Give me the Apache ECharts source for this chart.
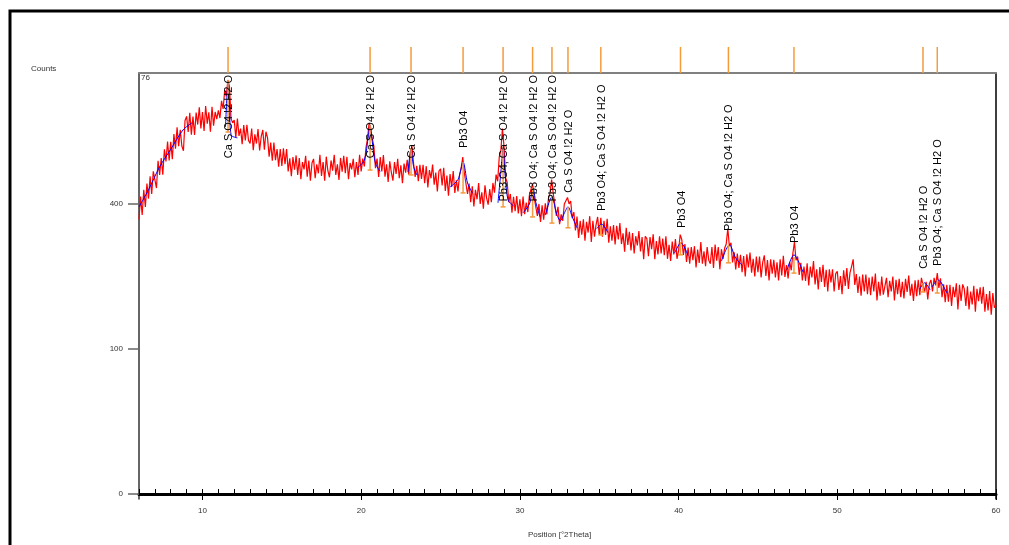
<!DOCTYPE html>
<html><head><meta charset="utf-8">
<script src="https://cdn.jsdelivr.net/npm/echarts@6/dist/echarts.min.js"></script>
<style>html,body{margin:0;padding:0;background:#fff}#c{width:1009px;height:545px}</style>
</head><body><div id="c"></div>
<script>
// ---- data ----
const twoThetaStart = 6, twoThetaStep = 0.1;
const observedCounts = [
359,421,370,440,392,458,415,480,428,495,
500,445,528,484,537,485,565,526,591,529,
590,533,616,567,639,575,631,576,560,663,
678,623,691,614,677,613,692,649,711,635,
694,627,716,652,693,624,713,645,694,668,
700,672,735,705,775,752,815,790,670,655,
665,604,670,610,635,582,647,594,648,594,
584,635,562,615,584,633,561,607,630,564,
624,603,541,587,528,587,530,566,509,566,
512,568,517,566,495,536,480,540,500,545,
484,537,471,524,501,544,479,529,467,521,
534,474,517,489,547,481,524,467,541,497,
477,529,497,547,484,517,469,537,494,544,
489,541,471,521,501,534,477,524,484,547,
495,535,510,570,600,655,662,600,575,505,
535,478,540,495,546,479,517,463,526,492,
467,524,487,534,474,514,459,519,491,531,
485,555,575,520,478,512,465,515,472,515,
459,511,447,499,474,516,455,491,435,496,
503,453,506,437,482,423,487,448,496,431,
468,435,485,505,540,490,490,428,458,405,
450,393,440,413,460,400,433,387,453,417,
398,442,405,460,432,485,465,540,560,635,
575,475,462,405,428,376,420,380,422,374,
413,367,421,372,404,378,425,423,458,418,
422,368,400,352,396,358,402,372,415,432,
470,430,428,368,392,346,372,355,400,395,
418,400,408,362,378,330,366,312,355,320,
359,305,352,325,367,302,355,315,345,365,
319,363,315,355,319,360,300,341,305,344,
296,342,308,349,297,323,279,337,295,327,
282,324,275,316,294,329,280,314,262,316,
310,269,314,285,321,262,304,273,316,275,
310,271,316,263,295,258,303,273,309,263,
282,320,308,272,297,256,289,252,290,260,
292,244,284,254,302,252,280,247,290,260,
252,290,243,296,259,290,240,285,263,287,
297,335,292,300,255,278,240,275,243,272,
234,269,225,273,244,277,233,263,225,268,
234,268,223,255,271,226,260,217,262,231,
261,223,255,217,262,227,270,224,249,221,
256,238,275,302,260,268,228,254,217,246,
216,253,207,246,223,258,209,240,199,245,
214,250,204,239,195,240,213,240,195,231,
236,198,226,190,238,206,243,200,233,246,
262,208,230,192,225,187,229,195,229,190,
223,188,225,195,231,178,214,187,225,189,
189,222,184,216,195,225,178,218,190,220,
184,214,182,220,194,227,187,210,177,217,
186,218,188,222,224,194,214,180,210,218,
195,222,207,232,202,221,184,209,175,208,
176,208,168,204,184,211,162,208,177,209,
200,168,205,162,195,171,206,158,200,177,
203,172,204,158,190,160,196,153,192,165,
170
];
const peakPositions = [11.61, 20.56, 23.14, 26.42, 28.94, 30.80, 32.02, 33.03, 35.10, 40.12, 43.14, 47.27, 55.40, 56.30];
const peakTopCounts = [815, 648, 569, 524, 573, 445, 420, 392, 344, 302, 295, 267, 212, 218];
const peakBackgroundCounts = [623, 499, 484, 431, 392, 365, 349, 337, 319, 272, 254, 232, 194, 192];
const peakLabels = [
  "Ca S O4 !2 H2 O", "Ca S O4 !2 H2 O", "Ca S O4 !2 H2 O", "Pb3 O4",
  "Pb3 O4; Ca S O4 !2 H2 O", "Pb3 O4; Ca S O4 !2 H2 O", "Pb3 O4; Ca S O4 !2 H2 O",
  "Ca S O4 !2 H2 O", "Pb3 O4; Ca S O4 !2 H2 O", "Pb3 O4", "Pb3 O4; Ca S O4 !2 H2 O",
  "Pb3 O4", "Ca S O4 !2 H2 O", "Pb3 O4; Ca S O4 !2 H2 O"
];
const fitProfiles = [
  [[6.0,392],[6.6,440],[7.3,509],[8.0,565],[8.77,630],[9.34,655]],
  [[11.45,640],[11.55,760],[11.62,804],[11.7,720],[11.8,613],[12.2,603]],
  [[19.75,505],[20.2,530],[20.45,610],[20.56,648],[20.7,590],[20.9,520],[21.2,495]],
  [[22.95,493],[23.14,563],[23.3,510],[23.5,484]],
  [[25.6,448],[26.1,470],[26.42,524],[26.7,460],[27.0,431]],
  [[28.62,403],[28.85,520],[28.94,573],[29.05,500],[29.25,411],[29.6,395]],
  [[30.2,376],[30.6,400],[30.83,445],[31.0,405],[31.27,365]],
  [[31.6,370],[32.02,420],[32.3,375],[32.55,355],[32.8,375],[33.03,392],[33.3,365],[33.6,337]],
  [[34.85,335],[35.15,346],[35.55,325]],
  [[39.75,276],[40.15,300],[40.6,270]],
  [[42.7,258],[43.0,285],[43.2,295],[43.6,265],[44.0,249]],
  [[46.83,239],[47.27,272],[47.84,234]],
  [[55.2,200],[55.5,212],[55.85,198]],
  [[55.97,204],[56.35,218],[56.9,192]]
];
const xTickLabels = [10, 20, 30, 40, 50, 60];
const yTickLabels = [0, 100, 400];
const cornerLabel = "76";
const xAxisTitle = "Position [°2Theta]";
const yAxisTitle = "Counts";

// ---- chart ----
const chart = echarts.init(document.getElementById('c'), null, {renderer: 'canvas'});
const sq = c => Math.sqrt(c);
const labelFont = '11px "Liberation Sans"';
const mctx = document.createElement('canvas').getContext('2d');
mctx.font = labelFont;
const measure = t => mctx.measureText(t).width;

const obsData = observedCounts.map((c, i) => [+(twoThetaStart + i * twoThetaStep).toFixed(2), sq(c)]);
const peakData = peakPositions.map((p, i) => [p, peakTopCounts[i], peakBackgroundCounts[i], i]);
const ORANGE = '#f59b3c';
const smallFont = {fontSize: 8, color: '#333', fontFamily: 'Liberation Sans'};

const series = [{
  type: 'line', name: 'observed', data: obsData, showSymbol: false, sampling: 'none',
  lineStyle: {color: '#ff0000', width: 1.2}, z: 2, silent: true,
  markLine: {silent: true, symbol: 'none', label: {show: false},
    lineStyle: {color: '#000', width: 1, type: 'solid'}, data: [{yAxis: 0}]}
}];
fitProfiles.forEach(seg => series.push({
  type: 'line', data: seg.map(d => [d[0], sq(d[1])]), showSymbol: false, smooth: 0.3,
  lineStyle: {color: '#0000ff', width: 1}, z: 3, silent: true
}));
series.push({
  type: 'custom', data: peakData, clip: false, z: 4, silent: true,
  renderItem: function (params, api) {
    const i = api.value(3);
    const x = api.value(0);
    const pT = api.coord([x, sq(api.value(1))]);
    const pB = api.coord([x, sq(api.value(2))]);
    const gTop = params.coordSys.y;
    const txt = peakLabels[i];
    const L = measure(txt);
    let bottom = pT[1] - 14;
    if (bottom - L < gTop + 2) bottom = gTop + 2 + L;
    return {type: 'group', children: [
      {type: 'line', shape: {x1: pT[0], y1: gTop - 26, x2: pT[0], y2: gTop}, style: {stroke: ORANGE, lineWidth: 1.5}},
      {type: 'line', shape: {x1: pT[0], y1: pT[1], x2: pB[0], y2: pB[1]}, style: {stroke: ORANGE, lineWidth: 1.5}},
      {type: 'line', shape: {x1: pB[0] - 2.5, y1: pB[1], x2: pB[0] + 2.5, y2: pB[1]}, style: {stroke: ORANGE, lineWidth: 1.5}},
      {type: 'text', x: pT[0] + 1, y: bottom, rotation: Math.PI / 2,
        style: {text: txt, fill: '#000', font: labelFont, align: 'left', verticalAlign: 'middle',
          textAlign: 'left', textVerticalAlign: 'middle'}}
    ]};
  }
});

const yMin = -0.345, yMax = 29.03;
chart.setOption({
  animation: false,
  backgroundColor: '#fff',
  grid: {left: 139, right: 13, top: 73, bottom: 46},
  xAxis: [
    {type: 'value', min: 6, max: 60, position: 'bottom',
      axisLine: {show: true, lineStyle: {color: '#000', width: 3}},
      axisTick: {show: true, customValues: xTickLabels, length: 6, lineStyle: {color: '#000', width: 1}},
      axisLabel: Object.assign({customValues: xTickLabels, margin: 8}, smallFont),
      splitLine: {show: false}},
    {type: 'value', min: 6, max: 60, interval: 1, position: 'bottom',
      axisLine: {show: false},
      axisTick: {show: true, inside: true, length: 5, lineStyle: {color: '#000', width: 1}},
      axisLabel: {show: false}, splitLine: {show: false}},
    {type: 'value', min: 6, max: 60, position: 'top',
      axisLine: {show: true, lineStyle: {color: '#808080', width: 2}},
      axisTick: {show: false}, axisLabel: {show: false}, splitLine: {show: false}}
  ],
  yAxis: [
    {type: 'value', min: yMin, max: yMax, position: 'left',
      axisLine: {show: true, lineStyle: {color: '#333', width: 1.5}},
      axisTick: {show: true, customValues: yTickLabels.map(sq), length: 11, lineStyle: {color: '#666', width: 1.5}},
      axisLabel: Object.assign({customValues: yTickLabels.map(sq), margin: 16,
        formatter: v => String(Math.round(v * v))}, smallFont),
      splitLine: {show: false}},
    {type: 'value', min: yMin, max: yMax, position: 'right',
      axisLine: {show: true, lineStyle: {color: '#000', width: 1.5}},
      axisTick: {show: false}, axisLabel: {show: false}, splitLine: {show: false}}
  ],
  graphic: [
    {type: 'polyline', shape: {points: [[10, 545], [10, 11], [1009, 11]]},
      style: {stroke: '#000', lineWidth: 3, fill: null}},
    {type: 'text', left: 31, top: 65, style: {text: yAxisTitle, font: '8px "Liberation Sans"', fill: '#333'}},
    {type: 'text', left: 528, top: 531, style: {text: xAxisTitle, font: '8px "Liberation Sans"', fill: '#333'}},
    {type: 'text', left: 141, top: 74, style: {text: cornerLabel, font: '8px "Liberation Sans"', fill: '#333'}}
  ],
  series: series
});
</script></body></html>
